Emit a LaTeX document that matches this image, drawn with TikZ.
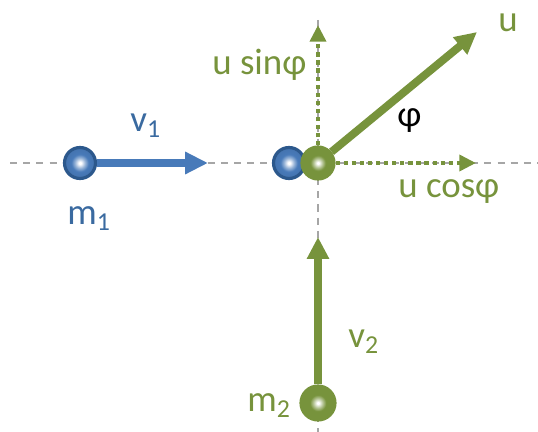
\documentclass[tikz,border=0pt]{standalone}
\usepackage{fontspec}
\setmainfont{Carlito}
\usetikzlibrary{arrows.meta}
\definecolor{ballblue}{RGB}{72,122,185}
\definecolor{rimblue}{RGB}{44,88,140}
\definecolor{textblue}{RGB}{58,106,160}
\definecolor{olive}{RGB}{119,147,60}
\definecolor{axisgray}{RGB}{166,166,166}

\pgfdeclareradialshading{blueshade}{\pgfpoint{0bp}{0bp}}{color(0bp)=(white); color(2bp)=(white); color(8bp)=(ballblue!55!white); color(14bp)=(ballblue); color(50bp)=(ballblue!80!black)}
\pgfdeclareradialshading{greenshade}{\pgfpoint{0bp}{0bp}}{color(0bp)=(white); color(1.5bp)=(white); color(7bp)=(olive!55!white); color(12bp)=(olive); color(50bp)=(olive)}

\tikzset{
  axisline/.style={axisgray, line width=1.1pt, dash pattern=on 4pt off 3.5pt},
  bluevec/.style={ballblue, line width=4.5pt, -{Triangle[length=13pt,width=12pt]}},
  greenvec/.style={olive, line width=4.5pt, -{Triangle[length=12.5pt,width=12pt]}},
  compvec/.style={olive, line width=2.4pt, dash pattern=on 2.4pt off 2.2pt, -{Triangle[length=9.5pt,width=9pt]}},
  blueball/.style={circle, inner sep=0pt, minimum size=0.62cm, draw=rimblue, line width=1.8pt, shading=blueshade},
  greenball/.style={circle, inner sep=0pt, minimum size=0.64cm, draw=olive, line width=1.8pt, shading=greenshade},
  lbl/.style={inner sep=0pt, anchor=base west, font=\fontsize{21}{25}\selectfont}
}

\begin{document}
\begin{tikzpicture}[x=0.02cm, y=-0.02cm]
        \useasboundingbox (0,0) rectangle (538,432);

        % axes through the collision point
        \coordinate (Hleft) at (10,163);
        \coordinate (Hright) at (538,163);
        \coordinate (Vtop) at (318,20);
        \coordinate (Vbottom) at (318,432);
        \draw[axisline] (Hleft) -- (Hright);
        \draw[axisline] (Vtop) -- (Vbottom);

        % balls
        \node[blueball] (M1) at (80,163) {};
        \node[blueball] (B2) at (289,163) {};
        \node[greenball] (G) at (318,163) {};
        \node[greenball, minimum size=0.68cm] (M2) at (318,403) {};

        % arrow tips
        \coordinate (V1tip) at (208,163);
        \coordinate (V2tip) at (318,237);
        \coordinate (Utip) at (477,32);
        \coordinate (Costip) at (476,163);
        \coordinate (Sintip) at (318,25);

        \draw[bluevec] (M1) -- (V1tip);
        \draw[greenvec] (M2) -- (V2tip);
        \draw[greenvec] (G) -- (Utip);
        \draw[compvec] (G) -- (Costip);
        \draw[compvec] (G) -- (Sintip);

        % labels
        \node[lbl, textblue] (v1) at (130,132) {v\textsubscript{1}};
        \node[lbl, textblue] (m1) at (67,225) {m\textsubscript{1}};
        \node[lbl, olive] (v2) at (348,348) {v\textsubscript{2}};
        \node[lbl, olive] (m2) at (247,412) {m\textsubscript{2}};
        \node[lbl, olive] (u) at (498,32) {u};
        \node[lbl, olive] (usin) at (212,75) {u sinφ};
        \node[lbl, olive] (ucos) at (398,198) {u cosφ};
        \node[lbl, black] (phi) at (397,127) {φ};

\end{tikzpicture}
\end{document}
